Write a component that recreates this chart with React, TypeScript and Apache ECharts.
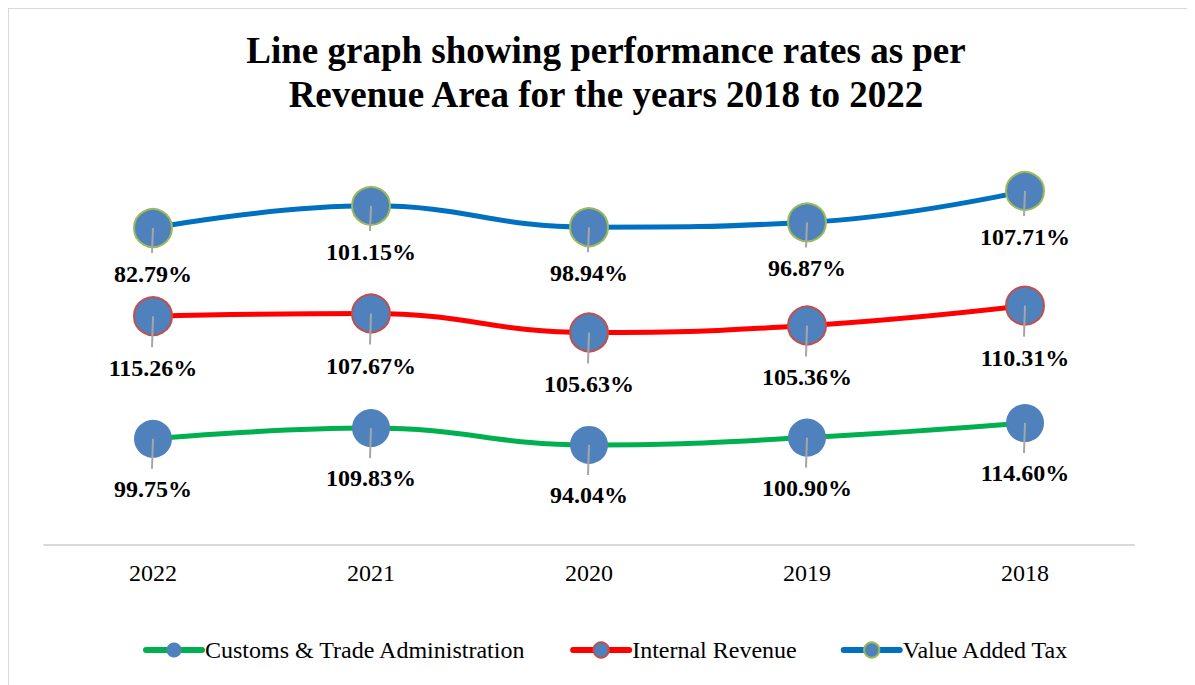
import React, { useEffect, useRef } from "react";
import * as echarts from "echarts";

const years = ["2022", "2021", "2020", "2019", "2018"];
const customs = [99.75, 109.83, 94.04, 100.9, 114.6];
const internalRevenue = [115.26, 107.67, 105.63, 105.36, 110.31];
const vat = [82.79, 101.15, 98.94, 96.87, 107.71];
const seriesNames = ["Customs & Trade Administration", "Internal Revenue", "Value Added Tax"];

const FONT = "'Liberation Serif', 'Times New Roman', serif";

export default function App() {
  const ref = useRef<HTMLDivElement>(null);
  useEffect(() => {
    if (!ref.current) return;
    const chart = echarts.init(ref.current, undefined, { renderer: "svg" });
    const values = [customs, internalRevenue, vat];
    const lineColors = ["#00B050", "#FF0000", "#0070C0"];
    const borderColors = ["#4F81BD", "#C0504D", "#9BBB59"];
    const labelDist = [19, 20, 14];
    const leaderLen = [30, 31, 25];

    // cumulative (stacked) totals, for leader lines
    const cum: number[][] = [];
    values.forEach((arr, s) => {
      cum.push(arr.map((v, i) => (s === 0 ? v : cum[s - 1][i] + v)));
    });

    const lineSeries = values.map((arr, s) => ({
      type: "line",
      name: seriesNames[s],
      stack: "total",
      data: arr,
      smooth: 0.45,
      symbol: "circle",
      symbolSize: 38,
      lineStyle: { color: lineColors[s], width: 5 },
      itemStyle: { color: "#4F81BD", borderColor: borderColors[s], borderWidth: s === 0 ? 0 : 2 },
      label: {
        show: true,
        position: "bottom",
        distance: labelDist[s],
        formatter: (p: any) => p.value.toFixed(2) + "%",
        fontFamily: FONT,
        fontWeight: "bold",
        fontSize: 24,
        color: "#000",
      },
      emphasis: { disabled: true },
      z: 2,
    }));

    const leaderSeries = values.map((arr, s) => ({
      type: "custom",
      data: cum[s].map((v, i) => [i, v]),
      z: 10,
      silent: true,
      renderItem: (params: any, api: any) => {
        const p = api.coord([api.value(0), api.value(1)]);
        return {
          type: "line",
          shape: { x1: p[0], y1: p[1], x2: p[0] - 1, y2: p[1] + leaderLen[s] },
          style: { stroke: "#A6A6A6", lineWidth: 2 },
        };
      },
    }));

    chart.setOption({
      animation: false,
      backgroundColor: "#fff",
      title: {
        text: "Line graph showing performance rates as per\nRevenue Area for the years 2018 to 2022",
        left: "center",
        top: 14,
        textStyle: {
          fontFamily: FONT,
          fontWeight: "bold",
          fontSize: 37,
          lineHeight: 44,
          color: "#000",
        },
      },
      legend: {
        data: seriesNames,
        top: 624,
        left: "center",
        itemWidth: 56,
        itemHeight: 19,
        itemGap: 44,
        lineStyle: { width: 6, cap: "round" },
        textStyle: { fontFamily: FONT, fontSize: 24, color: "#000", padding: [0, 0, 0, -2] },
      },
      grid: { left: 35, right: 69, top: 163.5, bottom: 152 },
      xAxis: {
        type: "category",
        data: years,
        boundaryGap: true,
        axisLine: { show: true, lineStyle: { color: "#D9D9D9", width: 2 } },
        axisTick: { show: false },
        axisLabel: { fontFamily: FONT, fontSize: 24, color: "#000", margin: 16 },
      },
      yAxis: {
        type: "value",
        min: 0,
        max: 350,
        show: false,
        splitLine: { show: false },
      },
      series: [...lineSeries, ...leaderSeries],
    });
    return () => chart.dispose();
  }, []);
  return (
    <div style={{ width: 1196, height: 690, border: "1px solid #D9D9D9", boxSizing: "border-box" }}>
      <div ref={ref} style={{ width: 1194, height: 688 }} />
    </div>
  );
}
